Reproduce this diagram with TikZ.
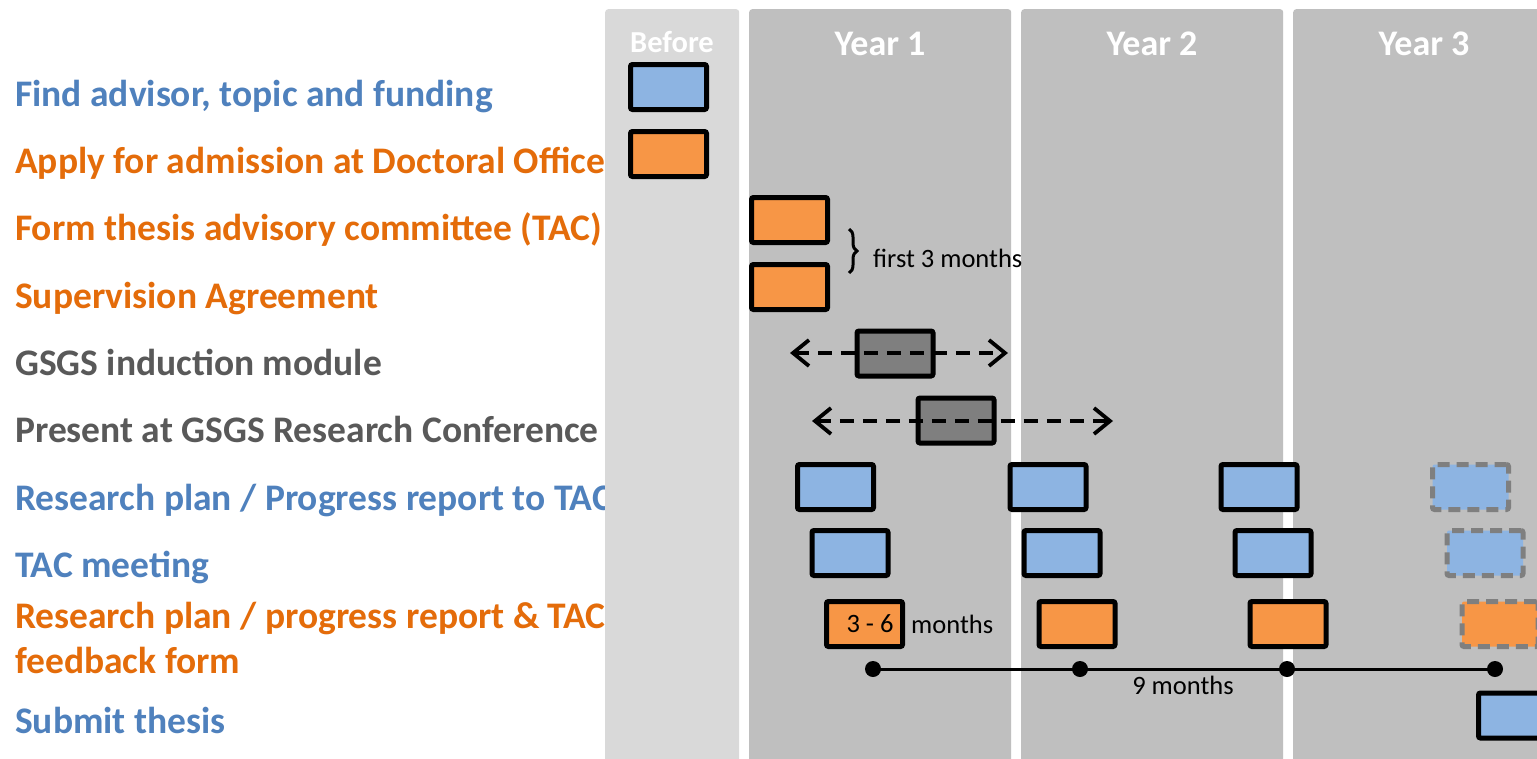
\documentclass[tikz,border=0pt]{standalone}
\usepackage{fontspec}
\setmainfont{Carlito}
\usetikzlibrary{arrows.meta,decorations.pathreplacing}
\definecolor{lblblue}{HTML}{4F81BD}
\definecolor{lblorange}{HTML}{E46C0A}
\definecolor{lblgrey}{HTML}{595959}
\definecolor{boxblue}{HTML}{8DB4E2}
\definecolor{boxorange}{HTML}{F79646}
\definecolor{boxgrey}{HTML}{7F7F7F}
\definecolor{colbefore}{HTML}{D9D9D9}
\definecolor{colyear}{HTML}{BFBFBF}
\begin{document}
\begin{tikzpicture}[x=1pt,y=-1pt,
  lbl/.style={anchor=base west, inner sep=0pt, font=\fontsize{37.5}{41}\selectfont\bfseries},
  colbox/.style={rounded corners=3pt, inner sep=0pt, anchor=north west, minimum height=780pt},
  hdr/.style={text=white, inner sep=0pt, font=\fontsize{36}{40}\selectfont\bfseries},
  task/.style={draw=black, line width=5pt, rounded corners=2pt, minimum width=76pt, minimum height=45pt, inner sep=0pt},
  bbox/.style={task, fill=boxblue},
  obox/.style={task, fill=boxorange},
  gbox/.style={task, fill=boxgrey},
  tent/.style={draw=boxgrey, line width=5pt, dash pattern=on 12pt off 7pt, rounded corners=2pt, minimum width=76pt, minimum height=45pt, inner sep=0pt},
  small/.style={inner sep=0pt, font=\fontsize{26.5}{30}\selectfont},
  darrow/.style={line width=3.8pt, dash pattern=on 14pt off 9pt,
    arrows={Straight Barb[length=16pt,width=26pt,line width=3.8pt]-Straight Barb[length=16pt,width=26pt,line width=3.8pt]}},
  dot/.style={circle, fill=black, minimum size=16pt, inner sep=0pt}
]
\useasboundingbox (0,0) rectangle (1537,758);
\fill[white] (0,0) rectangle (1537,758);

% labels
\node[lbl, text=lblblue]   (l1)  at (15,106) {Find advisor, topic and funding};
\node[lbl, text=lblorange] (l2)  at (15,173) {Apply for admission at Doctoral Office};
\node[lbl, text=lblorange] (l3)  at (15,240) {Form thesis advisory committee (TAC)};
\node[lbl, text=lblorange] (l4)  at (15,308) {Supervision Agreement};
\node[lbl, text=lblgrey]   (l5)  at (15,375) {GSGS induction module};
\node[lbl, text=lblgrey]   (l6)  at (15,442) {Present at GSGS Research Conference};
\node[lbl, text=lblblue]   (l7)  at (15,510) {Research plan / Progress report to TAC};
\node[lbl, text=lblblue]   (l8)  at (15,577) {TAC meeting};
\node[lbl, text=lblorange] (l9)  at (15,628) {Research plan / progress report \& TAC};
\node[lbl, text=lblorange] (l9b) at (15,673) {feedback form};
\node[lbl, text=lblblue]   (l10) at (15,733) {Submit thesis};

% columns
\node[colbox, fill=colbefore, minimum width=134pt] (cb) at (605,9) {};
\node[colbox, fill=colyear, minimum width=262pt] (c1) at (749,9) {};
\node[colbox, fill=colyear, minimum width=262pt] (c2) at (1021,9) {};
\node[colbox, fill=colyear, minimum width=262pt] (c3) at (1293,9) {};

\node[hdr, font=\fontsize{30.5}{34}\selectfont\bfseries] (hb) at (672,42) {Before};
\node[hdr] (h1) at (880,44) {Year 1};
\node[hdr] (h2) at (1152,44) {Year 2};
\node[hdr] (h3) at (1424,44) {Year 3};

% before
\node[bbox] (t1) at (668.5,87) {};
\node[obox] (t2) at (668.5,154) {};
% first 3 months
\node[obox] (t3) at (789.5,220) {};
\node[obox] (t4) at (789.5,287) {};
\draw[decorate, decoration={brace, amplitude=8pt}, line width=3pt] (849,229) -- (849,273);
\node[small, anchor=west] (f3) at (873,258) {first 3 months};

% GSGS
\node[gbox] (g1) at (895,353.5) {};
\coordinate (a1l) at (790,353);
\coordinate (a1r) at (1008,353);
\draw[darrow] (a1l) -- (a1r);
\node[gbox] (g2) at (956,420.5) {};
\coordinate (a2l) at (812,421);
\coordinate (a2r) at (1113,421);
\draw[darrow] (a2l) -- (a2r);

% research plan to TAC
\node[bbox] (r1) at (835.5,487) {};
\node[bbox] (r2) at (1048,487) {};
\node[bbox] (r3) at (1259,487) {};
\node[tent, fill=boxblue] (r4) at (1470.5,487) {};

% TAC meeting
\node[bbox] (m1) at (850,553) {};
\node[bbox] (m2) at (1062,553) {};
\node[bbox] (m3) at (1273,553) {};
\node[tent, fill=boxblue] (m4) at (1485,553) {};

% feedback form
\node[obox] (p1) at (864.5,624) {};
\node[small] (p1t) at (870,624) {3 - 6};
\node[small, anchor=west] (p1m) at (911,624) {months};
\node[obox] (p2) at (1077,624) {};
\node[obox] (p3) at (1288,624) {};
\node[tent, fill=boxorange] (p4) at (1500,624) {};

% 9 months line
\node[dot] (d1) at (873,669) {};
\node[dot] (d2) at (1080,669) {};
\node[dot] (d3) at (1287,669) {};
\node[dot] (d4) at (1495,669) {};
\draw[line width=3pt] (d1.center) -- (d2.center) -- (d3.center) -- (d4.center);
\node[small] (nm) at (1183,685) {9 months};

% submit
\node[bbox] (s1) at (1516.5,715.5) {};
\end{tikzpicture}
\end{document}
